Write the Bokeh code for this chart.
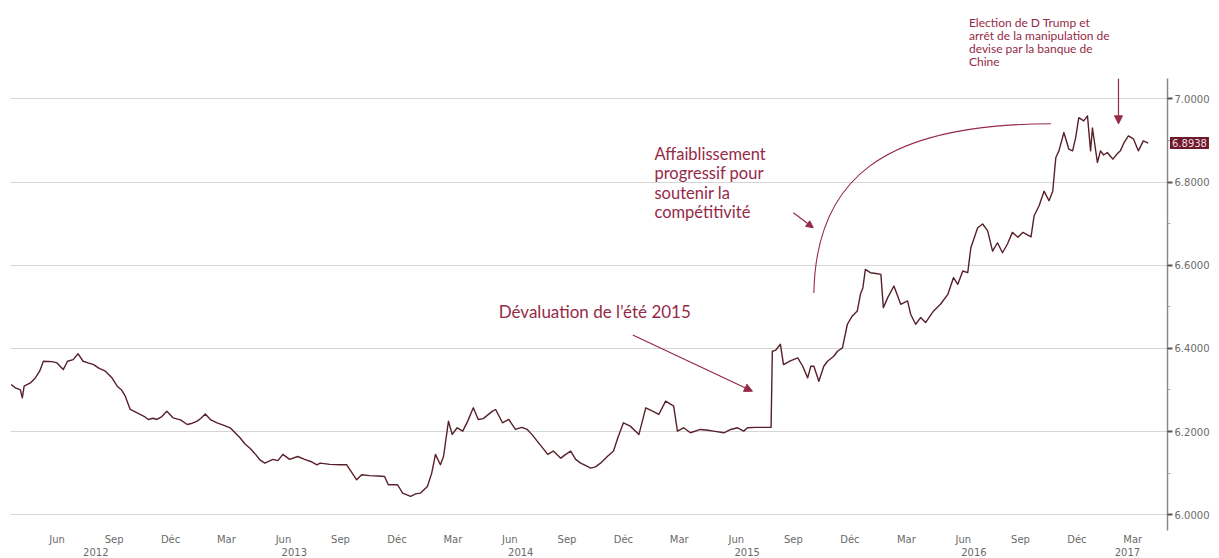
import pandas as pd
from bokeh.plotting import figure
from bokeh.models import (FixedTicker, PrintfTickFormatter, LinearAxis, Label, Arrow,
                          NormalHead, Range1d, ColumnDataSource)
from bokeh.embed import file_html
from bokeh.resources import INLINE

# ---------------- data (USD/CNY) ----------------
dates = [
    "2012-04-02", "2012-04-09", "2012-04-17", "2012-04-20", "2012-04-23", "2012-05-03", "2012-05-11",
    "2012-05-18", "2012-05-24", "2012-06-07", "2012-06-15", "2012-06-25", "2012-07-02", "2012-07-11",
    "2012-07-19", "2012-07-27", "2012-08-04", "2012-08-13", "2012-08-22", "2012-09-01", "2012-09-11",
    "2012-09-20", "2012-09-27", "2012-10-03", "2012-10-11", "2012-10-19", "2012-10-27", "2012-11-03",
    "2012-11-09", "2012-11-17", "2012-11-23", "2012-12-01", "2012-12-09", "2012-12-19", "2012-12-31",
    "2013-01-11", "2013-01-19", "2013-01-27", "2013-02-02", "2013-02-09", "2013-02-18", "2013-02-28",
    "2013-03-11", "2013-03-21", "2013-03-29", "2013-04-06", "2013-04-14", "2013-04-22", "2013-05-01",
    "2013-05-08", "2013-05-16", "2013-05-29", "2013-06-06", "2013-06-14", "2013-06-25", "2013-07-08",
    "2013-07-19", "2013-07-29", "2013-08-08", "2013-08-13", "2013-08-29", "2013-09-14", "2013-09-25",
    "2013-10-03", "2013-10-11", "2013-10-19", "2013-11-01", "2013-11-14", "2013-11-25", "2013-12-01",
    "2013-12-16", "2013-12-24", "2014-01-06", "2014-01-14", "2014-01-22", "2014-02-02", "2014-02-09",
    "2014-02-15", "2014-02-23", "2014-02-28", "2014-03-08", "2014-03-14", "2014-03-22", "2014-03-31",
    "2014-04-08", "2014-04-17", "2014-04-25", "2014-05-03", "2014-05-18", "2014-05-23", "2014-06-03",
    "2014-06-13", "2014-06-24", "2014-07-04", "2014-07-13", "2014-07-21", "2014-07-29", "2014-08-07",
    "2014-08-15", "2014-08-24", "2014-09-05", "2014-09-13", "2014-09-21", "2014-09-29", "2014-10-07",
    "2014-10-18", "2014-10-23", "2014-10-31", "2014-11-08", "2014-11-19", "2014-11-29", "2014-12-06",
    "2014-12-15", "2014-12-26", "2015-01-09", "2015-01-20", "2015-01-31", "2015-02-10", "2015-02-21",
    "2015-03-06", "2015-03-12", "2015-03-22", "2015-04-02", "2015-04-18", "2015-04-30", "2015-05-09",
    "2015-05-26", "2015-06-06", "2015-06-17", "2015-06-27", "2015-07-03", "2015-07-16", "2015-07-29",
    "2015-08-10", "2015-08-12", "2015-08-17", "2015-08-25", "2015-08-30", "2015-09-10", "2015-09-22",
    "2015-09-30", "2015-10-08", "2015-10-13", "2015-10-18", "2015-10-26", "2015-11-03", "2015-11-09",
    "2015-11-19", "2015-11-25", "2015-12-03", "2015-12-11", "2015-12-19", "2015-12-27", "2016-01-01",
    "2016-01-05", "2016-01-09", "2016-01-17", "2016-01-26", "2016-02-03", "2016-02-07", "2016-02-14",
    "2016-02-24", "2016-03-06", "2016-03-17", "2016-03-22", "2016-03-30", "2016-04-07", "2016-04-15",
    "2016-04-28", "2016-05-09", "2016-05-21", "2016-05-30", "2016-06-06", "2016-06-14", "2016-06-22",
    "2016-06-27", "2016-07-08", "2016-07-16", "2016-07-24", "2016-08-01", "2016-08-09", "2016-08-17",
    "2016-08-25", "2016-09-02", "2016-09-11", "2016-09-19", "2016-10-02", "2016-10-07", "2016-10-15",
    "2016-10-23", "2016-10-31", "2016-11-06", "2016-11-11", "2016-11-16", "2016-11-24", "2016-12-02",
    "2016-12-08", "2016-12-13", "2016-12-18", "2016-12-26", "2017-01-01", "2017-01-06", "2017-01-09",
    "2017-01-17", "2017-01-22", "2017-01-27", "2017-02-02", "2017-02-07", "2017-02-11", "2017-02-18",
    "2017-02-23", "2017-03-01", "2017-03-08", "2017-03-16", "2017-03-24", "2017-04-01", "2017-04-09",
]
usd_cny = [
    6.313, 6.305, 6.300, 6.281, 6.309, 6.317, 6.329,
    6.345, 6.369, 6.368, 6.365, 6.349, 6.369, 6.373,
    6.387, 6.369, 6.365, 6.361, 6.352, 6.345, 6.330,
    6.309, 6.300, 6.285, 6.253, 6.247, 6.241, 6.236,
    6.229, 6.232, 6.229, 6.236, 6.249, 6.233, 6.228,
    6.217, 6.220, 6.225, 6.232, 6.242, 6.228, 6.221,
    6.215, 6.209, 6.197, 6.185, 6.170, 6.160, 6.145,
    6.132, 6.124, 6.133, 6.130, 6.145, 6.133, 6.140,
    6.133, 6.128, 6.120, 6.124, 6.121, 6.120, 6.120,
    6.102, 6.084, 6.096, 6.094, 6.093, 6.092, 6.072,
    6.072, 6.052, 6.044, 6.050, 6.052, 6.068, 6.100,
    6.145, 6.120, 6.140, 6.225, 6.193, 6.209, 6.201,
    6.225, 6.257, 6.229, 6.231, 6.249, 6.253, 6.221,
    6.229, 6.205, 6.210, 6.205, 6.192, 6.177, 6.160,
    6.145, 6.153, 6.136, 6.145, 6.153, 6.133, 6.124,
    6.116, 6.112, 6.115, 6.124, 6.140, 6.153, 6.185,
    6.221, 6.213, 6.193, 6.257, 6.249, 6.241, 6.273,
    6.261, 6.201, 6.209, 6.197, 6.205, 6.203, 6.201,
    6.197, 6.205, 6.209, 6.201, 6.209, 6.210, 6.210,
    6.210, 6.393, 6.395, 6.410, 6.361, 6.370, 6.377,
    6.357, 6.329, 6.357, 6.357, 6.321, 6.357, 6.369,
    6.381, 6.393, 6.401, 6.458, 6.478, 6.490, 6.530,
    6.546, 6.590, 6.582, 6.580, 6.578, 6.498, 6.522,
    6.550, 6.506, 6.514, 6.482, 6.458, 6.474, 6.462,
    6.490, 6.506, 6.530, 6.570, 6.554, 6.586, 6.582,
    6.642, 6.690, 6.699, 6.683, 6.634, 6.654, 6.630,
    6.651, 6.679, 6.667, 6.679, 6.668, 6.719, 6.743,
    6.778, 6.755, 6.778, 6.859, 6.875, 6.919, 6.879,
    6.875, 6.907, 6.955, 6.947, 6.959, 6.875, 6.930,
    6.847, 6.875, 6.865, 6.871, 6.862, 6.855, 6.868,
    6.875, 6.895, 6.911, 6.904, 6.875, 6.899, 6.8938,
]
last_value = 6.8938

month_ticks = [
    "2012-06-15", "2012-09-15", "2012-12-15", "2013-03-15", "2013-06-15", "2013-09-15", "2013-12-15",
    "2014-03-15", "2014-06-15", "2014-09-15", "2014-12-15", "2015-03-15", "2015-06-15", "2015-09-15",
    "2015-12-15", "2016-03-15", "2016-06-15", "2016-09-15", "2016-12-15", "2017-03-15",
]
month_labels = ["Jun", "Sep", "Déc", "Mar", "Jun", "Sep", "Déc", "Mar", "Jun", "Sep", "Déc",
                "Mar", "Jun", "Sep", "Déc", "Mar", "Jun", "Sep", "Déc", "Mar"]
year_labels = ["2012", "2013", "2014", "2015", "2016", "2017"]
y_ticks = [6.0, 6.2, 6.4, 6.6, 6.8, 7.0]
y_minor_ticks = [6.1, 6.3, 6.5, 6.7, 6.9]
x_start, x_end = "2012-04-01", "2017-05-10"
y_start, y_end = 5.962, 7.049

# annotations
trump_text = "Election de D Trump et\narrêt de la manipulation de\ndevise par la banque de\nChine"
trump_pos = ("2016-06-24", 7.201)
trump_arrow = ("2017-02-20", 7.049, "2017-02-20", 6.940)
aff_text = "Affaiblissement\nprogressif pour\nsoutenir la\ncompétitivité"
aff_pos = ("2015-02-03", 6.891)
aff_arrow = ("2015-09-15", 6.726, "2015-10-17", 6.690)
arc_pts = [("2015-10-18", 6.533), ("2015-10-21", 6.803), ("2016-02-03", 6.940), ("2016-11-03", 6.940)]
dev_text = "Dévaluation de l’été 2015"
dev_pos = ("2014-05-28", 6.513)
dev_arrow = ("2014-12-30", 6.432, "2015-07-11", 6.297)

ANN = "#952a47"
LINE = "#57202b"
AX_TXT = "#6a6a6a"


def ms(s):
    return pd.Timestamp(s).value / 1e6


src = ColumnDataSource(dict(x=pd.to_datetime(dates), y=usd_cny))

p = figure(width=1219, height=558, x_axis_type="datetime", y_axis_location="right",
           x_range=Range1d(ms(x_start), ms(x_end)), y_range=Range1d(y_start, y_end),
           output_backend="svg", toolbar_location=None,
           min_border_left=10, min_border_right=52, min_border_top=78, min_border_bottom=0)
p.outline_line_color = None
p.background_fill_color = "white"
p.border_fill_color = "white"
p.xgrid.visible = False
p.ygrid.grid_line_color = "#d6d6d6"
p.ygrid.grid_line_width = 1

# y axis (right)
ya = p.yaxis[0]
ya.ticker = FixedTicker(ticks=y_ticks, minor_ticks=y_minor_ticks)
ya.formatter = PrintfTickFormatter(format="%.4f")
ya.axis_line_color = "#8a8a8a"
ya.axis_line_width = 1.5
ya.major_tick_line_color = "#555555"
ya.major_tick_line_width = 2
ya.major_tick_in = 0
ya.major_tick_out = 5
ya.minor_tick_line_color = "#aaaaaa"
ya.minor_tick_in = 0
ya.minor_tick_out = 3
ya.major_label_standoff = 2
ya.major_label_text_font = "DejaVu Sans"
ya.major_label_text_font_size = "10px"
ya.major_label_text_color = AX_TXT

# month axis (below)
month_ms = [ms(d) for d in month_ticks]
xa = p.xaxis[0]
xa.ticker = FixedTicker(ticks=month_ms)
xa.major_label_overrides = {m: lab for m, lab in zip(month_ms, month_labels)}
xa.axis_line_color = None
xa.major_tick_line_color = None
xa.minor_tick_line_color = None
xa.major_tick_out = 0
xa.major_tick_in = 0
xa.major_label_standoff = 3
xa.major_label_text_font = "DejaVu Sans"
xa.major_label_text_font_size = "10px"
xa.major_label_text_color = AX_TXT

# year axis (below the months), labels centred on the visible part of each year
x0, x1 = pd.Timestamp(x_start), pd.Timestamp(x_end)
year_ms = []
for yl in year_labels:
    a = max(pd.Timestamp(f"{yl}-01-01"), x0)
    b = min(pd.Timestamp(f"{int(yl) + 1}-01-01"), x1)
    year_ms.append(ms(a + (b - a) / 2))
ya2 = LinearAxis(ticker=FixedTicker(ticks=year_ms),
                 major_label_overrides={m: lab for m, lab in zip(year_ms, year_labels)})
ya2.axis_line_color = None
ya2.major_tick_line_color = None
ya2.minor_tick_line_color = None
ya2.major_tick_out = 0
ya2.major_tick_in = 0
ya2.major_label_standoff = 0
ya2.major_label_text_font = "DejaVu Sans"
ya2.major_label_text_font_size = "10px"
ya2.major_label_text_color = AX_TXT
p.add_layout(ya2, "below")

# series
p.line("x", "y", source=src, line_color=LINE, line_width=1.4, line_join="round")

# annotations inside the frame
p.add_layout(Arrow(x_start=ms(trump_arrow[0]), y_start=trump_arrow[1], x_end=ms(trump_arrow[2]),
                   y_end=trump_arrow[3], line_color=ANN, line_width=1.2,
                   end=NormalHead(size=8, fill_color=ANN, line_color=ANN)))

p.add_layout(Label(x=ms(aff_pos[0]), y=aff_pos[1], text=aff_text, text_font="Lato",
                   text_font_size="16.5px", text_color=ANN, text_baseline="top", text_align="left",
                   text_line_height=0.96))
p.add_layout(Arrow(x_start=ms(aff_arrow[0]), y_start=aff_arrow[1], x_end=ms(aff_arrow[2]),
                   y_end=aff_arrow[3], line_color=ANN, line_width=1.2,
                   end=NormalHead(size=7, fill_color=ANN, line_color=ANN)))
p.bezier(x0=[ms(arc_pts[0][0])], y0=[arc_pts[0][1]], cx0=[ms(arc_pts[1][0])], cy0=[arc_pts[1][1]],
         cx1=[ms(arc_pts[2][0])], cy1=[arc_pts[2][1]], x1=[ms(arc_pts[3][0])], y1=[arc_pts[3][1]],
         line_color=ANN, line_width=1.1)

p.add_layout(Label(x=ms(dev_pos[0]), y=dev_pos[1], text=dev_text, text_font="Lato",
                   text_font_size="17px", text_color=ANN, text_baseline="top", text_align="left"))
p.add_layout(Arrow(x_start=ms(dev_arrow[0]), y_start=dev_arrow[1], x_end=ms(dev_arrow[2]),
                   y_end=dev_arrow[3], line_color=ANN, line_width=1.2,
                   end=NormalHead(size=8, fill_color=ANN, line_color=ANN)))

# labels outside the frame live in a side panel so they are not clipped
p.add_layout(Label(x=ms(trump_pos[0]), y=trump_pos[1], text=trump_text, text_font="Lato",
                   text_font_size="12px", text_color=ANN, text_baseline="top", text_align="left",
                   text_line_height=0.87), "above")
p.add_layout(Label(x=ms(x_end) + 4 * 86400000, y=last_value, text=f"{last_value:.4f}",
                   text_font="DejaVu Sans", text_font_size="10px", text_color="#f3dde2",
                   text_baseline="middle", text_align="left", background_fill_color="#6d1a2b",
                   padding=2), "above")

open("out.html", "w").write(file_html(p, INLINE))
